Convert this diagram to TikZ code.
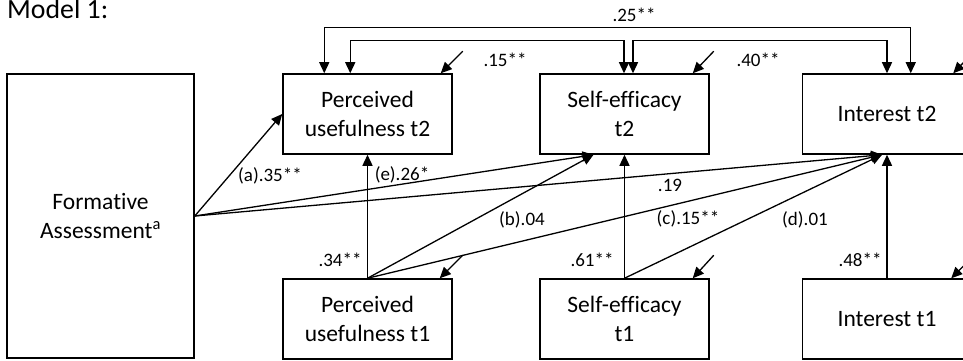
\documentclass[tikz,border=0pt]{standalone}
\usepackage{fontspec}
\setmainfont{Carlito}[Ligatures=NoCommon]
\usetikzlibrary{arrows.meta,calc}
\tikzset{
  box/.style={draw,line width=1.5pt,minimum width=169pt,minimum height=80pt,align=center,inner sep=0pt,font=\fontsize{23.5}{28.7}\selectfont},
  arr/.style={line width=1.3pt,-{Triangle[length=11pt,width=10pt]}},
  darr/.style={line width=1.3pt,{Triangle[length=11pt,width=10pt]}-{Triangle[length=11pt,width=10pt]}},
  lab/.style={font=\fontsize{19}{22}\selectfont,inner sep=0pt}
}
\begin{document}
\begin{tikzpicture}[x=1pt,y=-1pt]
\clip (0,0) rectangle (963,361);
\fill[white] (0,0) rectangle (963,361);
\node[anchor=base west,inner sep=0pt,font=\fontsize{27.8}{32}\selectfont] (title) at (7,19) {Model 1:};
% boxes
\node[box,minimum width=187pt,minimum height=284pt] (fa) at (100.5,216) {Formative\\Assessment\textsuperscript{a}};
\node[box] (pu2) at (367.5,114) {Perceived\\usefulness t2};
\node[box] (se2) at (624.5,114) {Self-efficacy\\t2};
\node[box] (int2) at (887,114) {Interest t2};
\node[box] (pu1) at (367.5,319) {Perceived\\usefulness t1};
\node[box] (se1) at (624.5,319) {Self-efficacy\\t1};
\node[box] (int1) at (887,319) {Interest t1};
% correlations at top
\draw[darr] ($(pu2.north west)+(42,0)$) -- ++(0,-46) -| ($(int2.north west)+(109,0)$);
\draw[darr] ($(pu2.north west)+(68,0)$) -- ++(0,-33) -| ($(se2.north)+(-0.5,0)$);
\draw[darr] ($(se2.north)+(8.5,0)$) -- ++(0,-33) -| (int2.north);
\node[lab] (l25) at (634,15) {.25**};
\node[lab] (l15) at (505,60) {.15**};
\node[lab] (l40) at (758,60) {.40**};
% residuals
\coordinate (r1) at ($(pu2.north east)+(10,-22)$);
\coordinate (r2) at ($(se2.north east)+(4,-22)$);
\coordinate (r3) at ($(int2.north east)+(2,-22)$);
\coordinate (r4) at ($(pu1.north east)+(10,-23)$);
\coordinate (r5) at ($(se1.north east)+(4,-23)$);
\coordinate (r6) at ($(int1.north east)+(2,-23)$);
\draw[arr] (r1) -- ($(pu2.north east)+(-12,0)$);
\draw[arr] (r2) -- ($(se2.north east)+(-17,0)$);
\draw[arr] (r3) -- ($(int2.north east)+(-19,0)$);
\draw[arr] (r4) -- ($(pu1.north east)+(-13,0)$);
\draw[arr] (r5) -- ($(se1.north east)+(-17,0)$);
\draw[arr] (r6) -- ($(int1.north east)+(-21,0)$);
% paths from formative assessment
\draw[arr] (fa.east) -- (pu2.west);
\draw[arr] (fa.east) -- ($(se2.south)+(-31,0)$);
\draw[arr] (fa.east) -- ($(int2.south)+(-5,0)$);
% stability paths
\draw[arr] (pu1.north) -- (pu2.south);
\draw[arr] (se1.north) -- (se2.south);
\draw[arr] (int1.north) -- (int2.south);
% cross paths
\draw[arr] (pu1.north) -- ($(se2.south)+(-31,0)$);
\draw[arr] (pu1.north) -- ($(int2.south)+(-5,0)$);
\draw[arr] (se1.north) -- ($(int2.south)+(-5,0)$);
% labels
\node[lab] (la) at (270,176) {(a).35**};
\node[lab] (le) at (402,175) {(e).26*};
\node[lab] (l19) at (670,185) {.19};
\node[lab] (lb) at (522,220) {(b).04};
\node[lab] (lc) at (688,219) {(c).15**};
\node[lab] (ld) at (805,220) {(d).01};
\node[lab] (l34) at (340,260) {.34**};
\node[lab] (l61) at (592,260) {.61**};
\node[lab] (l48) at (860,260) {.48**};
\end{tikzpicture}
\end{document}
